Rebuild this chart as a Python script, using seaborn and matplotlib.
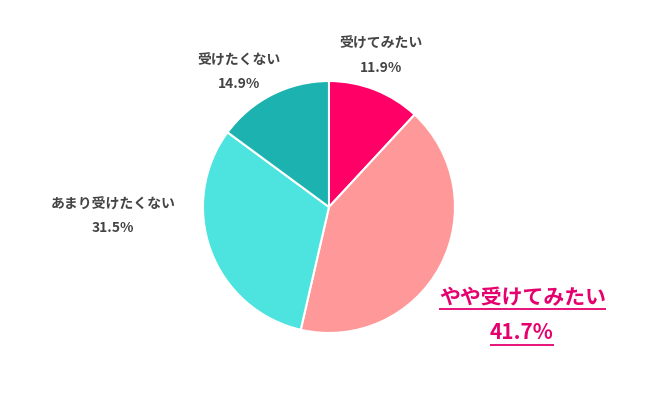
import matplotlib
matplotlib.use("Agg")
import matplotlib.pyplot as plt
import seaborn as sns

categories = ["受けてみたい", "やや受けてみたい", "あまり受けたくない", "受けたくない"]
shares = [11.9, 41.7, 31.5, 14.9]
colors = ["#FF0066", "#FF9999", "#4DE3DF", "#1BB2B0"]

sns.set_theme(style="white")
plt.rcParams["font.family"] = ["Noto Sans CJK JP", "DejaVu Sans"]

fig = plt.figure(figsize=(6.5, 3.98), dpi=100)
ax = fig.add_axes([0, 0, 1, 1])

ax.pie(shares, colors=colors, startangle=90, counterclock=False,
       radius=1.0, wedgeprops=dict(edgecolor="white", linewidth=1.5))

# limits so that the pie sits where it does in the reference
ax.set_xlim(-2.611, 2.548)
ax.set_ylim(-1.516, 1.643)
ax.set_aspect("equal")
ax.axis("off")

grey = "#444444"
pink = "#E5006E"
label_pos = {
    "受けてみたい": (0.413, 1.294, 1.103),
    "受けたくない": (-0.714, 1.159, 0.976),
    "あまり受けたくない": (-1.714, 0.016, -0.167),
}
for name, val in zip(categories, shares):
    if name in label_pos:
        x, y1, y2 = label_pos[name]
        ax.text(x, y1, name, ha="center", va="center", fontsize=10,
                color=grey, fontweight="bold")
        ax.text(x, y2, f"{val}%", ha="center", va="center", fontsize=10,
                color=grey, fontweight="bold")

# highlighted slice, underlined
big = [
    ax.text(1.54, -0.72, categories[1], ha="center", va="center",
            fontsize=15, color=pink, fontweight="bold"),
    ax.text(1.53, -1.0, f"{shares[1]}%", ha="center", va="center",
            fontsize=15, color=pink, fontweight="bold"),
]
fig.canvas.draw()
r = fig.canvas.get_renderer()
inv = ax.transData.inverted()
for t in big:
    bb = t.get_window_extent(renderer=r)
    (x0, y0), (x1, _) = inv.transform([(bb.x0, bb.y0), (bb.x1, bb.y1)])
    ax.plot([x0, x1], [y0 - 0.01, y0 - 0.01], color=pink, lw=1.3,
            solid_capstyle="butt")

fig.savefig("out.png", dpi=100)
plt.close(fig)
